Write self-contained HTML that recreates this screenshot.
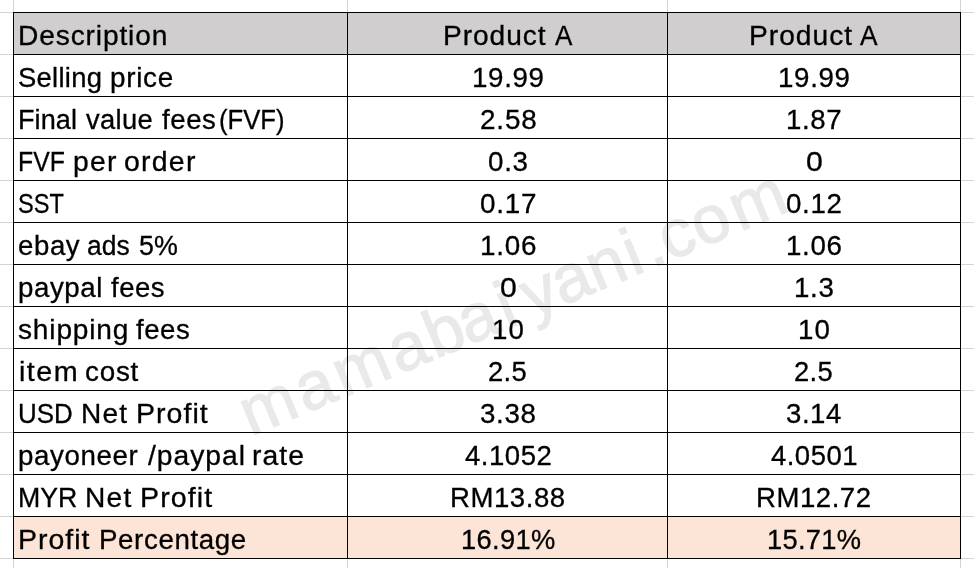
<!DOCTYPE html>
<html><head><meta charset="utf-8"><title>Profit table</title>
<style>
html,body{margin:0;padding:0;background:#fff;}
body{width:974px;height:568px;position:relative;overflow:hidden;font-family:"Liberation Sans",sans-serif;color:#000;}
.g{position:absolute;background:#d4d4d4;}
.b{position:absolute;background:#000;}
.fill{position:absolute;}
.cell{position:absolute;left:0;width:0;height:0;font-size:27px;}
.t{position:absolute;white-space:nowrap;font-size:27px;line-height:42px;height:42px;transform-origin:0 0;-webkit-text-stroke:0.3px #000;}
</style></head><body>

<div class="g" style="left:13px;top:0;width:1px;height:568px"></div>
<div class="g" style="left:347px;top:0;width:1px;height:568px"></div>
<div class="g" style="left:667px;top:0;width:1px;height:568px"></div>
<div class="g" style="left:960px;top:0;width:1px;height:568px"></div>
<div class="g" style="left:0;top:12px;width:974px;height:1px"></div>
<div class="g" style="left:0;top:54px;width:974px;height:1px"></div>
<div class="g" style="left:0;top:96px;width:974px;height:1px"></div>
<div class="g" style="left:0;top:138px;width:974px;height:1px"></div>
<div class="g" style="left:0;top:180px;width:974px;height:1px"></div>
<div class="g" style="left:0;top:222px;width:974px;height:1px"></div>
<div class="g" style="left:0;top:264px;width:974px;height:1px"></div>
<div class="g" style="left:0;top:306px;width:974px;height:1px"></div>
<div class="g" style="left:0;top:348px;width:974px;height:1px"></div>
<div class="g" style="left:0;top:390px;width:974px;height:1px"></div>
<div class="g" style="left:0;top:432px;width:974px;height:1px"></div>
<div class="g" style="left:0;top:474px;width:974px;height:1px"></div>
<div class="g" style="left:0;top:516px;width:974px;height:1px"></div>
<div class="g" style="left:0;top:558px;width:974px;height:1px"></div>
<div class="fill" style="left:14px;top:13px;width:946px;height:41px;background:#d0cece"></div>
<div class="fill" style="left:14px;top:517px;width:946px;height:41px;background:#fce4d6"></div>
<svg class="wms" width="974" height="568" viewBox="0 0 974 568" style="position:absolute;left:0;top:0"><text transform="translate(247.3 437.8) rotate(-22.7)" x="3.7 63.4 104.6 164.4 204.0 239.7 281.8 308.5 341.4 379.1 419.0 439.2 457.4 492.0 534.1" y="0" font-family="Liberation Sans, sans-serif" font-size="67" fill="#e9e9e9" stroke="#e9e9e9" stroke-width="1.2">mamabaiyani.com</text></svg>
<div class="b" style="left:13px;top:12px;width:948px;height:1px"></div>
<div class="b" style="left:13px;top:54px;width:948px;height:1px"></div>
<div class="b" style="left:13px;top:96px;width:948px;height:1px"></div>
<div class="b" style="left:13px;top:138px;width:948px;height:1px"></div>
<div class="b" style="left:13px;top:180px;width:948px;height:1px"></div>
<div class="b" style="left:13px;top:222px;width:948px;height:1px"></div>
<div class="b" style="left:13px;top:264px;width:948px;height:1px"></div>
<div class="b" style="left:13px;top:306px;width:948px;height:1px"></div>
<div class="b" style="left:13px;top:348px;width:948px;height:1px"></div>
<div class="b" style="left:13px;top:390px;width:948px;height:1px"></div>
<div class="b" style="left:13px;top:432px;width:948px;height:1px"></div>
<div class="b" style="left:13px;top:474px;width:948px;height:1px"></div>
<div class="b" style="left:13px;top:516px;width:948px;height:1px"></div>
<div class="b" style="left:13px;top:558px;width:948px;height:1px"></div>
<div class="b" style="left:13px;top:12px;width:1px;height:547px"></div>
<div class="b" style="left:347px;top:12px;width:1px;height:547px"></div>
<div class="b" style="left:667px;top:12px;width:1px;height:547px"></div>
<div class="b" style="left:960px;top:12px;width:1px;height:547px"></div>
<div class="cell" style="top:14.70px"><span class="t" style="left:18.21px;letter-spacing:0.817px;transform:scaleX(1.0430)">Description</span></div>
<div class="cell" style="top:14.70px"><span class="t" style="left:443.12px;letter-spacing:0.912px;transform:scaleX(1.0418)">Product</span> <span class="t" style="left:554.73px;transform:scaleX(0.9635)">A</span></div>
<div class="cell" style="top:14.70px"><span class="t" style="left:748.81px;letter-spacing:0.949px;transform:scaleX(1.0435)">Product</span> <span class="t" style="left:860.43px;transform:scaleX(0.9746)">A</span></div>
<div class="cell" style="top:56.70px"><span class="t" style="left:17.89px;letter-spacing:0.277px;transform:scaleX(1.0143)">Selling</span> <span class="t" style="left:109.94px;letter-spacing:0.670px;transform:scaleX(1.0327)">price</span></div>
<div class="cell" style="top:56.70px"><span class="t" style="left:472.14px;letter-spacing:0.639px;transform:scaleX(1.0271)">19.99</span></div>
<div class="cell" style="top:56.70px"><span class="t" style="left:778.04px;letter-spacing:0.639px;transform:scaleX(1.0271)">19.99</span></div>
<div class="cell" style="top:98.70px"><span class="t" style="left:18.19px;letter-spacing:0.060px;transform:scaleX(1.0029)">Final</span> <span class="t" style="left:85.92px;letter-spacing:0.323px;transform:scaleX(1.0136)">value</span> <span class="t" style="left:161.60px;letter-spacing:0.561px;transform:scaleX(1.0229)">fees</span><span class="t" style="left:218.95px;transform:scaleX(0.9506)">(FVF)</span></div>
<div class="cell" style="top:98.70px"><span class="t" style="left:479.87px;letter-spacing:0.796px;transform:scaleX(1.0326)">2.58</span></div>
<div class="cell" style="top:98.70px"><span class="t" style="left:786.15px;letter-spacing:0.567px;transform:scaleX(1.0235)">1.87</span></div>
<div class="cell" style="top:140.70px"><span class="t" style="left:18.36px;transform:scaleX(0.9177)">FVF</span> <span class="t" style="left:72.61px;letter-spacing:1.265px;transform:scaleX(1.0471)">per</span> <span class="t" style="left:123.85px;letter-spacing:1.182px;transform:scaleX(1.0535)">order</span></div>
<div class="cell" style="top:140.70px"><span class="t" style="left:487.54px;letter-spacing:0.717px;transform:scaleX(1.0276)">0.3</span></div>
<div class="cell" style="top:140.70px"><span class="t" style="left:806.05px;transform:scaleX(1.1186)">0</span></div>
<div class="cell" style="top:182.70px"><span class="t" style="left:17.73px;transform:scaleX(0.8721)">SST</span></div>
<div class="cell" style="top:182.70px"><span class="t" style="left:479.63px;letter-spacing:0.743px;transform:scaleX(1.0303)">0.17</span></div>
<div class="cell" style="top:182.70px"><span class="t" style="left:785.84px;letter-spacing:0.631px;transform:scaleX(1.0256)">0.12</span></div>
<div class="cell" style="top:224.70px"><span class="t" style="left:17.98px;letter-spacing:0.607px;transform:scaleX(1.0214)">ebay</span> <span class="t" style="left:86.92px;transform:scaleX(0.9786)">ads</span> <span class="t" style="left:139.31px;transform:scaleX(0.9933)">5%</span></div>
<div class="cell" style="top:224.70px"><span class="t" style="left:479.83px;letter-spacing:0.723px;transform:scaleX(1.0300)">1.06</span></div>
<div class="cell" style="top:224.70px"><span class="t" style="left:786.14px;letter-spacing:0.647px;transform:scaleX(1.0268)">1.06</span></div>
<div class="cell" style="top:266.70px"><span class="t" style="left:18.45px;letter-spacing:0.563px;transform:scaleX(1.0252)">paypal</span> <span class="t" style="left:110.50px;letter-spacing:0.503px;transform:scaleX(1.0205)">fees</span></div>
<div class="cell" style="top:266.70px"><span class="t" style="left:499.95px;transform:scaleX(1.1186)">0</span></div>
<div class="cell" style="top:266.70px"><span class="t" style="left:793.84px;letter-spacing:0.651px;transform:scaleX(1.0258)">1.3</span></div>
<div class="cell" style="top:308.70px"><span class="t" style="left:18.12px;letter-spacing:0.804px;transform:scaleX(1.0397)">shipping</span> <span class="t" style="left:135.80px;letter-spacing:0.522px;transform:scaleX(1.0213)">fees</span></div>
<div class="cell" style="top:308.70px"><span class="t" style="left:492.44px;letter-spacing:1.013px;transform:scaleX(1.0255)">10</span></div>
<div class="cell" style="top:308.70px"><span class="t" style="left:798.34px;letter-spacing:1.013px;transform:scaleX(1.0255)">10</span></div>
<div class="cell" style="top:350.70px"><span class="t" style="left:18.54px;letter-spacing:1.412px;transform:scaleX(1.0626)">item</span> <span class="t" style="left:84.87px;letter-spacing:0.737px;transform:scaleX(1.0310)">cost</span></div>
<div class="cell" style="top:350.70px"><span class="t" style="left:488.19px;letter-spacing:0.384px;transform:scaleX(1.0144)">2.5</span></div>
<div class="cell" style="top:350.70px"><span class="t" style="left:794.39px;letter-spacing:0.355px;transform:scaleX(1.0133)">2.5</span></div>
<div class="cell" style="top:392.70px"><span class="t" style="left:18.35px;transform:scaleX(0.9598)">USD</span> <span class="t" style="left:81.32px;letter-spacing:1.126px;transform:scaleX(1.0390)">Net</span> <span class="t" style="left:135.69px;letter-spacing:0.977px;transform:scaleX(1.0564)">Profit</span></div>
<div class="cell" style="top:392.70px"><span class="t" style="left:480.29px;letter-spacing:0.641px;transform:scaleX(1.0261)">3.38</span></div>
<div class="cell" style="top:392.70px"><span class="t" style="left:786.40px;letter-spacing:0.544px;transform:scaleX(1.0218)">3.14</span></div>
<div class="cell" style="top:434.70px"><span class="t" style="left:18.45px;letter-spacing:0.592px;transform:scaleX(1.0256)">payoneer</span> <span class="t" style="left:148.35px;letter-spacing:0.939px;transform:scaleX(1.0460)">/paypal</span> <span class="t" style="left:252.16px;letter-spacing:1.005px;transform:scaleX(1.0474)">rate</span></div>
<div class="cell" style="top:434.70px"><span class="t" style="left:465.10px;letter-spacing:0.493px;transform:scaleX(1.0206)">4.1052</span></div>
<div class="cell" style="top:434.70px"><span class="t" style="left:771.00px;letter-spacing:0.454px;transform:scaleX(1.0189)">4.0501</span></div>
<div class="cell" style="top:476.70px"><span class="t" style="left:18.22px;transform:scaleX(0.9895)">MYR</span> <span class="t" style="left:85.42px;letter-spacing:1.209px;transform:scaleX(1.0420)">Net</span> <span class="t" style="left:139.78px;letter-spacing:1.020px;transform:scaleX(1.0590)">Profit</span></div>
<div class="cell" style="top:476.70px"><span class="t" style="left:450.36px;letter-spacing:0.540px;transform:scaleX(1.0207)">RM13.88</span></div>
<div class="cell" style="top:476.70px"><span class="t" style="left:756.06px;letter-spacing:0.529px;transform:scaleX(1.0203)">RM12.72</span></div>
<div class="cell" style="top:518.70px"><span class="t" style="left:18.09px;letter-spacing:0.955px;transform:scaleX(1.0551)">Profit</span> <span class="t" style="left:98.65px;letter-spacing:0.584px;transform:scaleX(1.0267)">Percentage</span></div>
<div class="cell" style="top:518.70px"><span class="t" style="left:460.67px;letter-spacing:0.310px;transform:scaleX(1.0117)">16.91%</span></div>
<div class="cell" style="top:518.70px"><span class="t" style="left:767.47px;letter-spacing:0.286px;transform:scaleX(1.0108)">15.71%</span></div>
</body></html>
